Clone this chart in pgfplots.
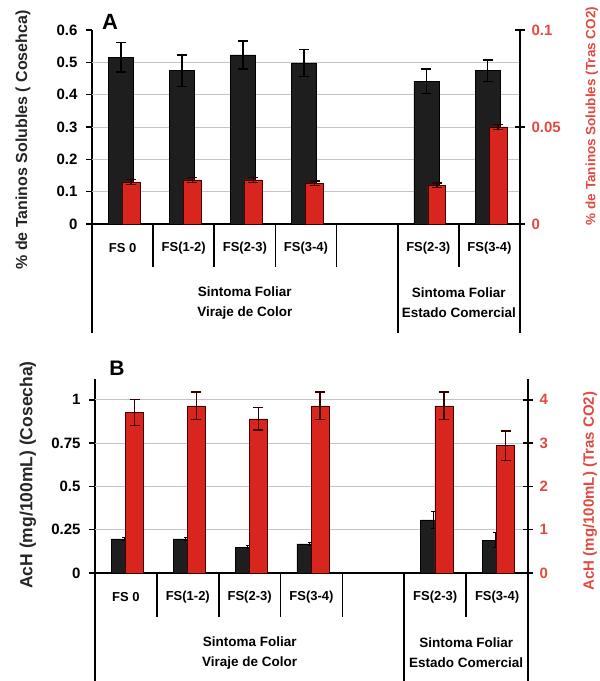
\documentclass[border=0pt]{standalone}
\usepackage{pgfplots}
\pgfplotsset{compat=1.18}
\usepackage{fontspec}
\setmainfont{Liberation Sans}
\definecolor{barblack}{HTML}{1E1E1E}
\definecolor{barred}{HTML}{D8261F}
\definecolor{lblred}{HTML}{E04A40}
\definecolor{gridgray}{HTML}{C4C4C4}
\newcommand{\fs}[1]{\fontsize{#1}{#1}\selectfont\bfseries}
\begin{document}
\begin{tikzpicture}[x=1pt,y=1pt]
\path[use as bounding box] (0,0) rectangle (600,681);
\pgfplotsset{
  base/.style={scale only axis, height=194pt, xmin=-0.5, xmax=6.5, ymin=0, clip=false,
    axis line style={-, line width=1.6pt, black}, tick style={black, line width=1.6pt},
    xtick=\empty, /pgf/number format/assume math mode=true,
    yticklabel style={font=\fs{15}}},
  leftax/.style={base, axis y line*=left, axis x line*=bottom, tick align=outside, major tick length=6pt,
    yticklabel style={xshift=-5pt}},
  rightax/.style={base, axis y line*=right, axis x line=none, tick align=center, major tick length=10pt,
    yticklabel style={lblred, xshift=3pt}},
  blk/.style={ybar, bar width=0.41, bar shift=0, fill=barblack, draw=black, line width=0.6pt,
    error bars/.cd, y dir=both, y explicit,
    error bar style={line width=1.6pt, black}, error mark options={rotate=90, mark size=5pt, line width=1.6pt, black}},
  rd/.style={ybar, bar width=0.29, bar shift=0, fill=barred, draw=black!75!red, line width=0.6pt,
    error bars/.cd, y dir=both, y explicit,
    error bar style={line width=1.4pt, black!80!red}, error mark options={rotate=90, mark size=5pt, line width=1.4pt, black!80!red}},
}
% ---------------- Panel A ----------------
\begin{axis}[leftax, at={(92pt,457pt)}, width=428pt, ymax=0.6,
  ytick={0,0.1,0.2,0.3,0.4,0.5,0.6}, yticklabels={0,0.1,0.2,0.3,0.4,0.5,0.6}]
\pgfplotsinvokeforeach{0.1,0.2,0.3,0.4,0.5}{\draw[gridgray, line width=0.9pt] (axis cs:-0.5,#1) -- (axis cs:6.5,#1);}
\addplot[blk] coordinates {(-0.03,0.516) +- (0,0.045) (0.97,0.474) +- (0,0.049) (1.97,0.523) +- (0,0.043) (2.97,0.498) +- (0,0.042) (4.97,0.442) +- (0,0.038) (5.97,0.474) +- (0,0.033)};
\pgfplotsinvokeforeach{0.5,1.5,2.5,3.5,5.5}{\draw[line width=1.6pt] (axis cs:#1,0) -- ++(0pt,-43pt);}
\pgfplotsinvokeforeach{-0.5,4.5,6.5}{\draw[line width=1.6pt] (axis cs:#1,0) -- ++(0pt,-109pt);}
\node[font=\fs{13}] at ([yshift=-24pt]axis cs:0,0) {FS 0};
\node[font=\fs{13}] at ([yshift=-24pt]axis cs:1,0) {FS(1-2)};
\node[font=\fs{13}] at ([yshift=-24pt]axis cs:2,0) {FS(2-3)};
\node[font=\fs{13}] at ([yshift=-24pt]axis cs:3,0) {FS(3-4)};
\node[font=\fs{13}] at ([yshift=-24pt]axis cs:5,0) {FS(2-3)};
\node[font=\fs{13}] at ([yshift=-24pt]axis cs:6,0) {FS(3-4)};
\node[font=\fontsize{13.5}{20}\selectfont\bfseries, align=center] at ([yshift=-79pt]axis cs:2,0) {Sintoma Foliar\\Viraje de Color};
\node[font=\fontsize{13.5}{20}\selectfont\bfseries, align=center] at ([yshift=-79pt]axis cs:5.5,0) {Sintoma Foliar\\Estado Comercial};
\end{axis}
\begin{axis}[rightax, at={(92pt,457pt)}, width=428pt, ymax=0.1,
  ytick={0,0.05,0.1}, yticklabels={0,0.05,0.1}]
\addplot[rd] coordinates {(0.14,0.0217) +- (0,0.0012) (1.14,0.0227) +- (0,0.0012) (2.14,0.0227) +- (0,0.0012) (3.14,0.021) +- (0,0.0012) (5.14,0.020) +- (0,0.0012) (6.14,0.050) +- (0,0.0012)};
\end{axis}
% ---------------- Panel B ----------------
\begin{axis}[leftax, at={(95pt,108pt)}, width=433pt, ymax=1.12,
  ytick={0,0.25,0.5,0.75,1}, yticklabels={0,0.25,0.5,0.75,1}]
\pgfplotsinvokeforeach{0.25,0.5,0.75,1}{\draw[gridgray, line width=0.9pt] (axis cs:-0.5,#1) -- (axis cs:6.5,#1);}
\addplot[blk, error mark options={rotate=90, mark size=2pt, line width=1pt}, error bar style={line width=1pt}] coordinates {(-0.03,0.197) +- (0,0.01) (0.97,0.197) +- (0,0.01) (1.97,0.15) +- (0,0.01) (2.97,0.168) +- (0,0.01) (4.97,0.306) +- (0,0.05) (5.97,0.19) +- (0,0.045)};
\pgfplotsinvokeforeach{0.5,1.5,2.5,3.5,5.5}{\draw[line width=1.6pt] (axis cs:#1,0) -- ++(0pt,-44pt);}
\pgfplotsinvokeforeach{-0.5,4.5,6.5}{\draw[line width=1.6pt] (axis cs:#1,0) -- ++(0pt,-115pt);}
\node[font=\fs{13}] at ([yshift=-24pt]axis cs:0,0) {FS 0};
\node[font=\fs{13}] at ([yshift=-24pt]axis cs:1,0) {FS(1-2)};
\node[font=\fs{13}] at ([yshift=-24pt]axis cs:2,0) {FS(2-3)};
\node[font=\fs{13}] at ([yshift=-24pt]axis cs:3,0) {FS(3-4)};
\node[font=\fs{13}] at ([yshift=-24pt]axis cs:5,0) {FS(2-3)};
\node[font=\fs{13}] at ([yshift=-24pt]axis cs:6,0) {FS(3-4)};
\node[font=\fontsize{13.5}{20}\selectfont\bfseries, align=center] at ([yshift=-80pt]axis cs:2,0) {Sintoma Foliar\\Viraje de Color};
\node[font=\fontsize{13.5}{20}\selectfont\bfseries, align=center] at ([yshift=-80pt]axis cs:5.5,0) {Sintoma Foliar\\Estado Comercial};
\end{axis}
\begin{axis}[rightax, at={(95pt,108pt)}, width=433pt, ymax=4.48,
  ytick={0,1,2,3,4}, yticklabels={0,1,2,3,4}]
\addplot[rd] coordinates {(0.14,3.70) +- (0,0.30) (1.14,3.86) +- (0,0.32) (2.14,3.56) +- (0,0.26) (3.14,3.86) +- (0,0.32) (5.14,3.86) +- (0,0.32) (6.14,2.94) +- (0,0.34)};
\end{axis}
% ---------------- labels ----------------
\node[font=\fs{22}] at (110,659) {A};
\node[font=\fs{21}] at (117,313) {B};
\node[font=\fs{16}, rotate=90, text=black!85] at (23,541) {\% de Taninos Solubles ( Cosehca)};
\node[font=\fs{13.5}, rotate=90, text=lblred] at (592,565) {\% de Taninos Solubles (Tras CO2)};
\node[font=\fs{17.5}, rotate=90, text=black!85] at (28,206) {AcH (mg/100mL) (Cosecha)};
\node[font=\fs{15}, rotate=90, text=lblred] at (590,190) {AcH (mg/100mL) (Tras CO2)};
\end{tikzpicture}
\end{document}
